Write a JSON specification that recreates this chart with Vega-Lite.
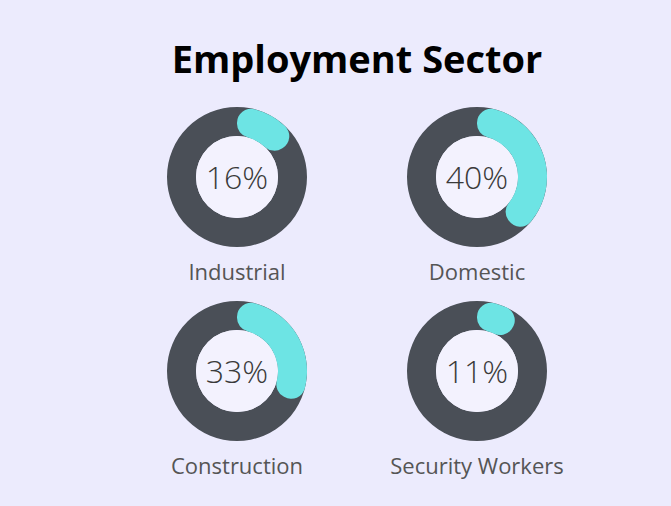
{
  "$schema": "https://vega.github.io/schema/vega-lite/v6.json",
  "background": "#ecebfd",
  "padding": {"left": 117, "top": 42, "right": 74, "bottom": 30},
  "title": {"text": "Employment Sector", "fontSize": 38, "font": "Open Sans", "fontWeight": "bold", "color": "#000000", "anchor": "middle", "offset": 9.5},
  "data": {"values": [
    {"sector": "Industrial", "share": 0.16},
    {"sector": "Domestic", "share": 0.40},
    {"sector": "Construction", "share": 0.33},
    {"sector": "Security Workers", "share": 0.11}
  ]},
  "facet": {"field": "sector", "type": "nominal", "sort": ["Industrial", "Domestic", "Construction", "Security Workers"], "header": {"title": null, "labels": false, "labelExpr": "''", "labelFontSize": 0, "labelPadding": 0}},
  "columns": 2,
  "spacing": {"row": 0, "column": 0},
  "spec": {
    "width": 240,
    "height": 174,
    "layer": [
      {"mark": {"type": "arc", "theta": 0, "theta2": 6.2832, "radius": 70, "radius2": 41, "color": "#4a4f57"}, "encoding": {}},
      {"mark": {"type": "arc", "theta": 0, "theta2": 6.2832, "radius": 41, "radius2": 0, "color": "#f3f2fe"}, "encoding": {}},
      {"mark": {"type": "arc", "radius": 70, "radius2": 41, "cornerRadius": 14, "color": "#6de4e4"},
       "encoding": {"theta": {"field": "share", "type": "quantitative", "scale": {"domain": [0, 1]}}}},
      {"mark": {"type": "text", "fontSize": 32, "font": "Open Sans", "fontWeight": 300, "color": "#3a3a3a", "baseline": "alphabetic", "dy": 12},
       "encoding": {"text": {"field": "share", "type": "quantitative", "format": ".0%"}}},
      {"mark": {"type": "text", "fontSize": 22, "font": "Open Sans", "color": "#555555", "baseline": "alphabetic", "dy": 103},
       "encoding": {"text": {"field": "sector", "type": "nominal"}}}
    ]
  },
  "config": {"view": {"stroke": null}, "header": {"labels": false, "title": null}, "headerFacet": {"labels": false}}
}
